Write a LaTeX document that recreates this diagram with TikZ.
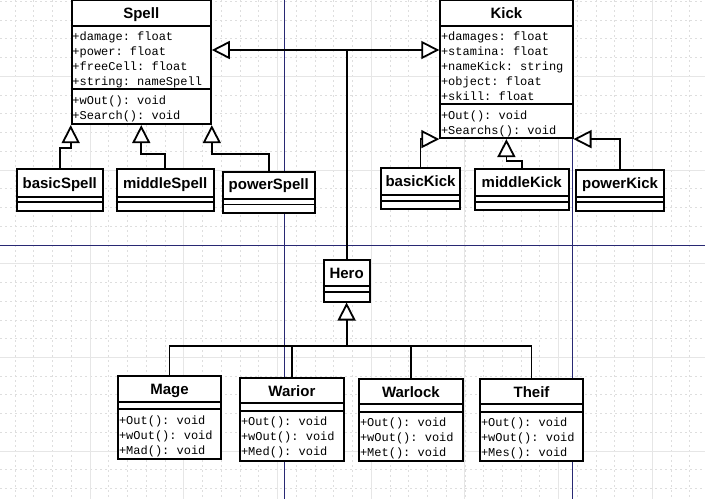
\documentclass[tikz,border=0pt]{standalone}
\usepackage{fontspec}
\setmainfont{Liberation Sans}
\setmonofont{Liberation Mono}
\usetikzlibrary{arrows.meta}
\usetikzlibrary{positioning}
\definecolor{pagebreak}{RGB}{40,40,115}
\definecolor{gridminor}{RGB}{222,222,222}
\definecolor{gridmajor}{RGB}{230,230,230}
\tikzset{classbox/.style = {draw, line width = 1.8pt, fill = white, inner sep = 0, anchor = north west}}
\tikzset{divider/.style = {line width = 1.8pt}}
\tikzset{classname/.style = {anchor = base, inner sep = 0, font = \bfseries\fontsize{15}{18}\selectfont}}
\tikzset{member/.style = {anchor = base west, inner sep = 0, font = \ttfamily\fontsize{12}{15}\selectfont}}
\tikzset{link/.style = {line width = 1.8pt}}
\tikzset{inherit/.style = {link, -{Triangle[open, fill = white, length = 18pt, width = 18pt]}}}

\begin{document}
\begin{tikzpicture}[x = 1pt, y = -1pt]
      \clip (0, 0) rectangle (705, 499);
      \fill [white] (0, 0) rectangle (705, 499);
      \foreach \k in {0, ..., 38}
        \draw [gridminor, dash pattern = on 2pt off 3pt, line width = 0.6pt] ({-3.7 + 18.74*\k}, 0) -- ++(0, 499);
      \foreach \k in {0, ..., 27}
        \draw [gridminor, dash pattern = on 2pt off 3pt, line width = 0.6pt] (0, {1.24 + 18.74*\k}) -- ++(705, 0);
      \foreach \k in {0, ..., 7}
        \draw [gridmajor, line width = 0.8pt] ({-3.7 + 93.7*\k}, 0) -- ++(0, 499);
      \foreach \k in {0, ..., 5}
        \draw [gridmajor, line width = 0.8pt] (0, {-17.5 + 93.7*\k}) -- ++(705, 0);
      \draw [pagebreak, line width = 1pt] (284.3, 0) -- (284.3, 499);
      \draw [pagebreak, line width = 1pt] (572.7, 0) -- (572.7, 499);
      \draw [pagebreak, line width = 1pt] (0, 245.3) -- (705, 245.3);

      % Spell
      \node [classbox, minimum width = 139.3pt, minimum height = 124pt] (Spell) at (70.7, -0.7) {};
      \draw [divider] (Spell.west |- 0, 25.7) -- (Spell.east |- 0, 25.7);
      \draw [divider] (Spell.west |- 0, 89.3) -- (Spell.east |- 0, 89.3);
      \node [classname] (spellName) at (Spell.north |- 0, 18.1) {Spell};
      \foreach \txt [count = \i] in {+damage: float, +power: float, +freeCell: float, +string: nameSpell}
        \node [member] (spellAttr\i) at (72.2, 25.5 + 15*\i) {\txt};
      \foreach \txt [count = \i] in {+wOut(): void, +Search(): void}
        \node [member] (spellOp\i) at (72.2, 89.5 + 15*\i) {\txt};

      % Kick
      \node [classbox, minimum width = 132.4pt, minimum height = 138pt] (Kick) at (439.3, -0.7) {};
      \draw [divider] (Kick.west |- 0, 25.7) -- (Kick.east |- 0, 25.7);
      \draw [divider] (Kick.west |- 0, 104.3) -- (Kick.east |- 0, 104.3);
      \node [classname] (kickName) at (Kick.north |- 0, 18.1) {Kick};
      \foreach \txt [count = \i] in {+damages: float, +stamina: float, +nameKick: string, +object: float, +skill: float}
        \node [member] (kickAttr\i) at (440.8, 25.5 + 15*\i) {\txt};
      \foreach \txt [count = \i] in {+Out(): void, +Searchs(): void}
        \node [member] (kickOp\i) at (440.8, 104.5 + 15*\i) {\txt};

      % spells
      \node [classbox, minimum width = 85.7pt, minimum height = 42pt] (basicSpell) at (16, 168) {};
      \draw [divider] (basicSpell.west |- 0, 196.7) -- (basicSpell.east |- 0, 196.7);
      \draw [divider] (basicSpell.west |- 0, 202.3) -- (basicSpell.east |- 0, 202.3);
      \node [classname] (basicSpellName) at (basicSpell.north |- 0, 188.4) {basicSpell};
      \node [classbox, minimum width = 97pt, minimum height = 42pt] (middleSpell) at (115.7, 168) {};
      \draw [divider] (middleSpell.west |- 0, 196.7) -- (middleSpell.east |- 0, 196.7);
      \draw [divider] (middleSpell.west |- 0, 202.3) -- (middleSpell.east |- 0, 202.3);
      \node [classname] (middleSpellName) at (middleSpell.north |- 0, 188.4) {middleSpell};
      \node [classbox, minimum width = 92.3pt, minimum height = 41.3pt] (powerSpell) at (221.7, 170.7) {};
      \draw [divider] (powerSpell.west |- 0, 199) -- (powerSpell.east |- 0, 199);
      \draw [divider] (powerSpell.west |- 0, 204.5) -- (powerSpell.east |- 0, 204.5);
      \node [classname] (powerSpellName) at (powerSpell.north |- 0, 189.4) {powerSpell};

      % kicks
      \node [classbox, minimum width = 79.3pt, minimum height = 41pt] (basicKick) at (380, 167.3) {};
      \draw [divider] (basicKick.west |- 0, 195) -- (basicKick.east |- 0, 195);
      \draw [divider] (basicKick.west |- 0, 201) -- (basicKick.east |- 0, 201);
      \node [classname] (basicKickName) at (basicKick.north |- 0, 186.1) {basicKick};
      \node [classbox, minimum width = 93.7pt, minimum height = 41pt] (middleKick) at (474, 168.3) {};
      \draw [divider] (middleKick.west |- 0, 195.7) -- (middleKick.east |- 0, 195.7);
      \draw [divider] (middleKick.west |- 0, 201.7) -- (middleKick.east |- 0, 201.7);
      \node [classname] (middleKickName) at (middleKick.north |- 0, 187.1) {middleKick};
      \node [classbox, minimum width = 88.3pt, minimum height = 40.7pt] (powerKick) at (575, 169.3) {};
      \draw [divider] (powerKick.west |- 0, 196.7) -- (powerKick.east |- 0, 196.7);
      \draw [divider] (powerKick.west |- 0, 202.3) -- (powerKick.east |- 0, 202.3);
      \node [classname] (powerKickName) at (powerKick.north |- 0, 188.1) {powerKick};

      % Hero
      \node [classbox, minimum width = 46pt, minimum height = 41.4pt] (Hero) at (322.7, 259.3) {};
      \draw [divider] (Hero.west |- 0, 285.7) -- (Hero.east |- 0, 285.7);
      \draw [divider] (Hero.west |- 0, 292.3) -- (Hero.east |- 0, 292.3);
      \node [classname] (heroName) at (Hero.north |- 0, 278.1) {Hero};

      % heroes
      \node [classbox, minimum width = 102.7pt, minimum height = 83.3pt] (Mage) at (117.3, 375) {};
      \draw [divider] (Mage.west |- 0, 401.7) -- (Mage.east |- 0, 401.7);
      \draw [divider] (Mage.west |- 0, 409) -- (Mage.east |- 0, 409);
      \node [classname] (mageName) at (Mage.north |- 0, 394.7) {Mage};
      \foreach \txt [count = \i] in {+Out(): void, +wOut(): void, +Mad(): void}
        \node [member] (mageOp\i) at (118.8, 409.5 + 15*\i) {\txt};
      \node [classbox, minimum width = 103.4pt, minimum height = 82.7pt] (Warior) at (239.3, 377.3) {};
      \draw [divider] (Warior.west |- 0, 403.3) -- (Warior.east |- 0, 403.3);
      \draw [divider] (Warior.west |- 0, 411) -- (Warior.east |- 0, 411);
      \node [classname] (wariorName) at (Warior.north |- 0, 396.4) {Warior};
      \foreach \txt [count = \i] in {+Out(): void, +wOut(): void, +Med(): void}
        \node [member] (wariorOp\i) at (240.8, 410 + 15*\i) {\txt};
      \node [classbox, minimum width = 103.4pt, minimum height = 81.7pt] (Warlock) at (358.3, 378.3) {};
      \draw [divider] (Warlock.west |- 0, 404.3) -- (Warlock.east |- 0, 404.3);
      \draw [divider] (Warlock.west |- 0, 411.7) -- (Warlock.east |- 0, 411.7);
      \node [classname] (warlockName) at (Warlock.north |- 0, 397.1) {Warlock};
      \foreach \txt [count = \i] in {+Out(): void, +wOut(): void, +Met(): void}
        \node [member] (warlockOp\i) at (359.8, 411 + 15*\i) {\txt};
      \node [classbox, minimum width = 102.7pt, minimum height = 81.7pt] (Theif) at (479.3, 378.3) {};
      \draw [divider] (Theif.west |- 0, 404.3) -- (Theif.east |- 0, 404.3);
      \draw [divider] (Theif.west |- 0, 411.7) -- (Theif.east |- 0, 411.7);
      \node [classname] (theifName) at (Theif.north |- 0, 397.1) {Theif};
      \foreach \txt [count = \i] in {+Out(): void, +wOut(): void, +Mes(): void}
        \node [member] (theifOp\i) at (480.8, 411 + 15*\i) {\txt};

      % inheritance
      \coordinate (junction) at (Hero.north |- 0, 50);
      \draw [link] (Hero.north) -- (junction);
      \draw [inherit] (junction) -- (junction -| Spell.east);
      \draw [inherit] (junction) -- (junction -| Kick.west);
      \draw [inherit] (basicSpell.north) -- ++(0, -20) -| (Spell.south west);
      \draw [inherit] (middleSpell.north) -- ++(0, -14) -| (Spell.south);
      \draw [inherit] (powerSpell.north) -- ++(0, -16.7) -| (Spell.south east);
      \draw [inherit] (basicKick.north) |- (Kick.south west);
      \draw [inherit] (middleKick.north) -- ++(0, -7.6) -| (Kick.south);
      \draw [inherit] (powerKick.north) |- (Kick.south east);
      \coordinate (bus) at (Hero.south |- 0, 345.7);
      \draw [inherit] (bus) -- (Hero.south);
      \draw [link] (Mage.north) |- (bus) -| (Theif.north);
      \draw [link] (Warior.north) -- (Warior.north |- bus);
      \draw [link] (Warlock.north) -- (Warlock.north |- bus);
\end{tikzpicture}
\end{document}
